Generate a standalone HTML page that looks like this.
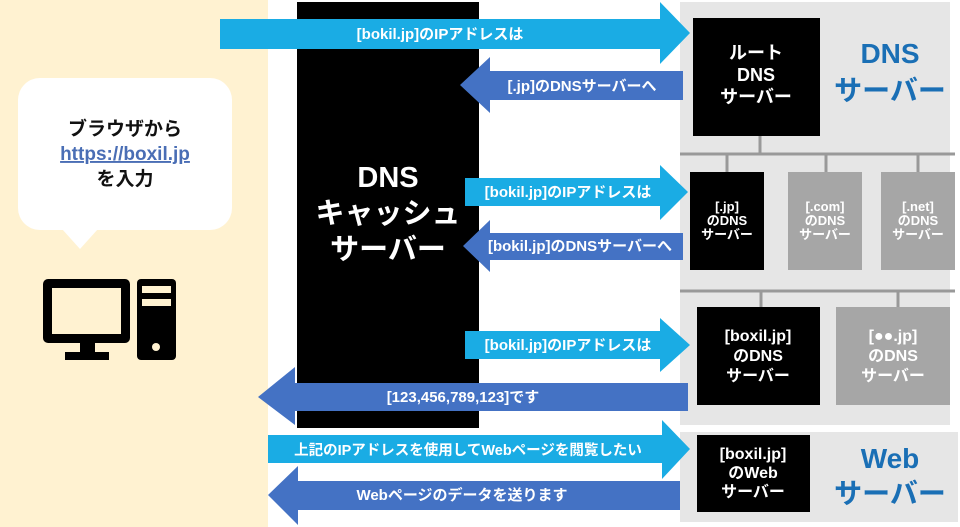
<!DOCTYPE html>
<html><head><meta charset="utf-8"><style>
body{margin:0;width:960px;height:527px;overflow:hidden;background:#fff}
svg{display:block}
text{font-family:"Liberation Sans","Noto Sans CJK JP",sans-serif;font-weight:bold}
</style></head><body>
<svg width="960" height="527" viewBox="0 0 960 527">
<rect x="0" y="0" width="268" height="527" fill="#fff2d1"/>
<rect x="18" y="78" width="214" height="152" rx="22" fill="#fff"/>
<polygon points="62,229 98,229 80,249" fill="#fff"/>
<text x="125" y="135" font-size="19" text-anchor="middle" fill="#111">ブラウザから</text>
<text x="125" y="160" font-size="19" text-anchor="middle" fill="#4a6eb5" text-decoration="underline">https://boxil.jp</text>
<text x="125" y="185" font-size="19" text-anchor="middle" fill="#111">を入力</text>
<rect x="43" y="279" width="87" height="64" rx="5" fill="#000"/>
<rect x="52" y="288" width="69" height="46" fill="#fff2d1"/>
<rect x="80" y="342" width="15" height="11" fill="#000"/>
<rect x="65" y="352" width="44" height="8" fill="#000"/>
<rect x="137" y="279" width="39" height="81" rx="4" fill="#000"/>
<rect x="142" y="286" width="29" height="7" fill="#fff2d1"/>
<rect x="142" y="299" width="29" height="7" fill="#fff2d1"/>
<circle cx="156" cy="347" r="4" fill="#fff2d1"/>
<rect x="297" y="2" width="182" height="426" fill="#000"/>
<text x="388" y="187" font-size="29" text-anchor="middle" fill="#fff">DNS</text>
<text x="388" y="223" font-size="29" text-anchor="middle" fill="#fff">キャッシュ</text>
<text x="388" y="259" font-size="29" text-anchor="middle" fill="#fff">サーバー</text>
<rect x="680" y="2" width="270" height="423" fill="#e6e6e6"/>
<rect x="680" y="432" width="278" height="90" fill="#e6e6e6"/>
<line x1="760" y1="136" x2="760" y2="154" stroke="#999" stroke-width="3"/>
<line x1="680" y1="154" x2="955" y2="154" stroke="#999" stroke-width="3"/>
<line x1="727" y1="154" x2="727" y2="172" stroke="#999" stroke-width="3"/>
<line x1="826" y1="154" x2="826" y2="172" stroke="#999" stroke-width="3"/>
<line x1="918" y1="154" x2="918" y2="172" stroke="#999" stroke-width="3"/>
<line x1="680" y1="291" x2="955" y2="291" stroke="#999" stroke-width="3"/>
<line x1="761" y1="291" x2="761" y2="307" stroke="#999" stroke-width="3"/>
<line x1="898" y1="291" x2="898" y2="307" stroke="#999" stroke-width="3"/>
<rect x="693" y="18" width="127" height="118" fill="#000"/>
<text x="756" y="59" font-size="18" text-anchor="middle" fill="#fff">ルート</text>
<text x="756" y="81" font-size="18" text-anchor="middle" fill="#fff">DNS</text>
<text x="756" y="103" font-size="18" text-anchor="middle" fill="#fff">サーバー</text>
<text x="890" y="63" font-size="28" text-anchor="middle" fill="#1a6fb5">DNS</text>
<text x="890" y="100" font-size="28" text-anchor="middle" fill="#1a6fb5">サーバー</text>
<rect x="690" y="172" width="74" height="98" fill="#000"/>
<rect x="788" y="172" width="74" height="98" fill="#a6a6a6"/>
<rect x="881" y="172" width="74" height="98" fill="#a6a6a6"/>
<g font-size="13" text-anchor="middle" fill="#fff">
<text x="727" y="211">[.jp]</text><text x="727" y="225">のDNS</text><text x="727" y="239">サーバー</text>
<text x="825" y="211">[.com]</text><text x="825" y="225">のDNS</text><text x="825" y="239">サーバー</text>
<text x="918" y="211">[.net]</text><text x="918" y="225">のDNS</text><text x="918" y="239">サーバー</text>
</g>
<rect x="697" y="307" width="123" height="98" fill="#000"/>
<rect x="836" y="307" width="114" height="98" fill="#a6a6a6"/>
<g font-size="16" text-anchor="middle" fill="#fff">
<text x="758" y="341">[boxil.jp]</text><text x="758" y="361">のDNS</text><text x="758" y="381">サーバー</text>
<text x="893" y="341">[●●.jp]</text><text x="893" y="361">のDNS</text><text x="893" y="381">サーバー</text>
</g>
<rect x="697" y="435" width="113" height="77" fill="#000"/>
<g font-size="16" text-anchor="middle" fill="#fff">
<text x="753" y="459">[boxil.jp]</text><text x="753" y="478">のWeb</text><text x="753" y="497">サーバー</text>
</g>
<text x="890" y="468" font-size="28" text-anchor="middle" fill="#1a6fb5">Web</text>
<text x="890" y="503" font-size="28" text-anchor="middle" fill="#1a6fb5">サーバー</text>
<g fill="#1aace4">
<polygon points="220,19 660,19 660,2 690,33 660,64 660,49 220,49"/>
<polygon points="465,178 660,178 660,165 688,192 660,220 660,206 465,206"/>
<polygon points="465,331 660,331 660,318 690,345 660,372 660,359 465,359"/>
<polygon points="268,435 662,435 662,420 690,449 662,479 662,463 268,463"/>
</g>
<g fill="#4472c4">
<polygon points="683,71 490,71 490,57 460,85 490,113 490,100 683,100"/>
<polygon points="683,233 490,233 490,220 463,246 490,272 490,260 683,260"/>
<polygon points="688,383 295,383 295,367 258,397 295,425 295,411 688,411"/>
<polygon points="680,481 298,481 298,466 268,495 298,525 298,510 680,510"/>
</g>
<g font-size="15" fill="#fff" text-anchor="middle">
<text x="440" y="39">[bokil.jp]のIPアドレスは</text>
<text x="582" y="91">[.jp]のDNSサーバーへ</text>
<text x="568" y="197">[bokil.jp]のIPアドレスは</text>
<text x="580" y="251">[bokil.jp]のDNSサーバーへ</text>
<text x="568" y="350">[bokil.jp]のIPアドレスは</text>
<text x="463" y="402">[123,456,789,123]です</text>
<text x="468" y="455" font-size="14.5">上記のIPアドレスを使用してWebページを閲覧したい</text>
<text x="462" y="500">Webページのデータを送ります</text>
</g>
</svg>
</body></html>
